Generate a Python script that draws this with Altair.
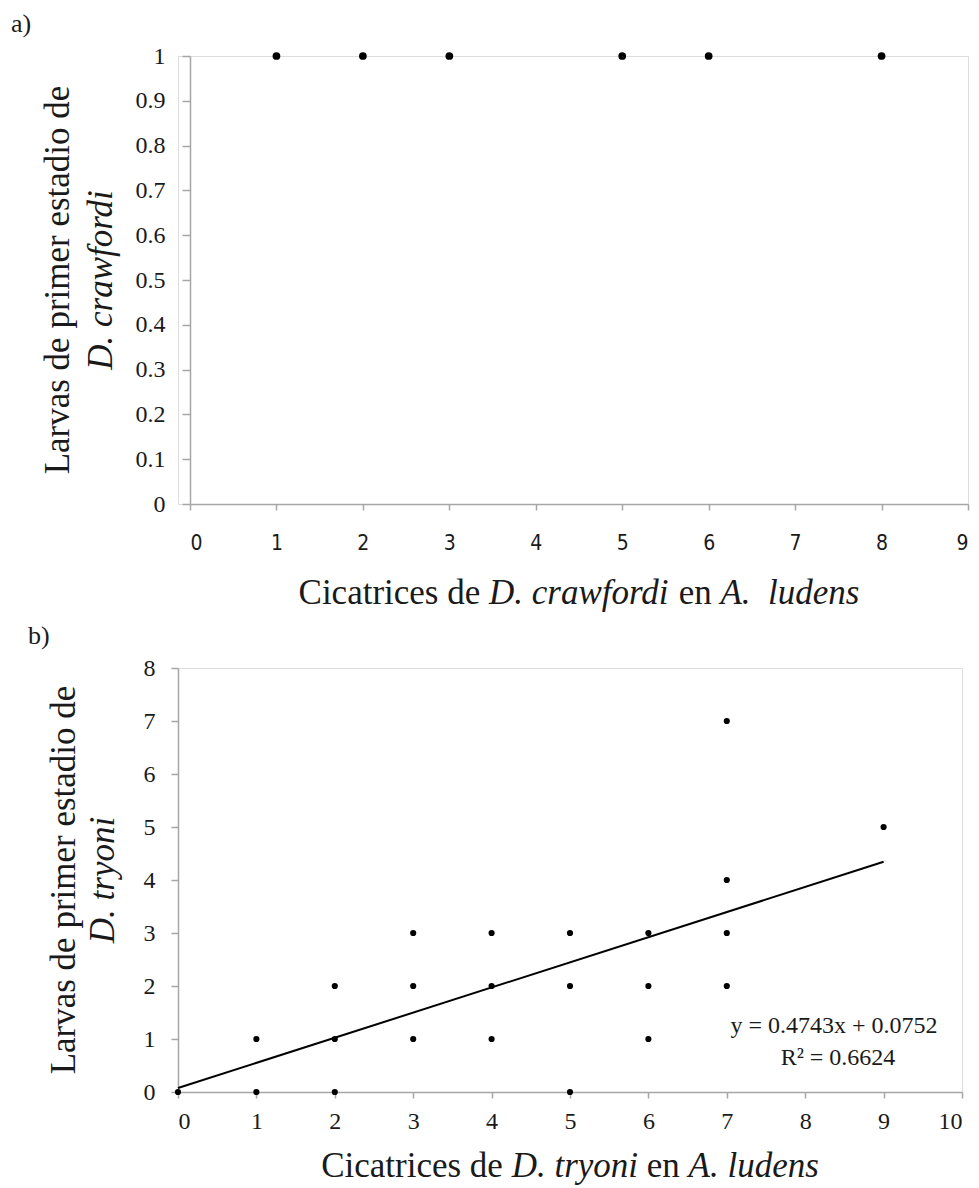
import altair as alt
import pandas as pd

# ---------------- data ----------------
# panel a)
a_x = [1, 2, 3, 5, 6, 8]
a_y = [1, 1, 1, 1, 1, 1]
a_xticks = [0, 1, 2, 3, 4, 5, 6, 7, 8, 9]
a_yticks = [0, 0.1, 0.2, 0.3, 0.4, 0.5, 0.6, 0.7, 0.8, 0.9, 1]

# panel b)
b_x = [0, 1, 2, 5, 1, 2, 3, 4, 6, 2, 3, 4, 5, 6, 7, 3, 4, 5, 6, 7, 7, 9, 7]
b_y = [0, 0, 0, 0, 1, 1, 1, 1, 1, 2, 2, 2, 2, 2, 2, 3, 3, 3, 3, 3, 4, 5, 7]
b_xticks = [0, 1, 2, 3, 4, 5, 6, 7, 8, 9, 10]
b_yticks = [0, 1, 2, 3, 4, 5, 6, 7, 8]

trend_slope = 0.4743
trend_intercept = 0.0752
trend_x = [0, 9]
eq_line1 = "y = 0.4743x + 0.0752"
eq_line2 = "R² = 0.6624"

a_xtitle = [("Cicatrices de ", False), ("D. crawfordi", True), (" en ", False), ("A.  ludens", True)]
b_xtitle = [("Cicatrices de ", False), ("D. tryoni", True), (" en ", False), ("A. ludens", True)]
ytitle_line1 = "Larvas de primer estadio de"
a_ytitle_line2 = "D. crawfordi"
b_ytitle_line2 = "D. tryoni"

# ---------------- style ----------------
SERIF = "Liberation Serif"
NARROW = "DejaVu Sans Condensed, Liberation Sans Narrow, Liberation Sans"
GRAY = "#a6a6a6"
TEXT = "#1a1a1a"
TITLE_SIZE = 35
TICK_SIZE = 24

# Times-compatible advance widths (per 1000 em) for laying out mixed-style titles
REG = {' ': 250, '.': 250, 'A': 722, 'C': 667, 'D': 722, 'a': 444, 'c': 444, 'd': 500,
       'e': 444, 'i': 278, 'l': 278, 'n': 500, 'o': 500, 'r': 333, 's': 389, 't': 278,
       'u': 500, 'w': 722, 'f': 333, 'y': 500}
ITA = {' ': 250, '.': 250, 'A': 611, 'D': 722, 'a': 500, 'c': 444, 'd': 500, 'e': 444,
       'f': 278, 'i': 278, 'l': 278, 'n': 500, 'o': 500, 'r': 389, 's': 389, 't': 278,
       'u': 500, 'w': 667, 'y': 444}


def text_width(s, size, italic):
    table = ITA if italic else REG
    return sum(table.get(ch, 500) for ch in s) * size / 1000.0


one = pd.DataFrame({"k": [0]})


def text_layer(txt, x, y, size, italic=False, align="center", angle=0, font=SERIF):
    kw = dict(text=txt, font=font, fontSize=size, fontStyle="italic" if italic else "normal",
              align=align, baseline="middle", color=TEXT)
    if angle:
        kw["angle"] = angle
    return alt.Chart(one).mark_text(**kw).encode(x=alt.value(x), y=alt.value(y))


def mixed_title(segments, center_x, y, size):
    widths = [text_width(t, size, it) for t, it in segments]
    x0 = center_x - sum(widths) / 2.0
    layers = []
    for (t, it), w in zip(segments, widths):
        lead = len(t) - len(t.lstrip())
        core = t.strip()
        # internal double spaces are kept by splitting into words
        parts = core.split("  ")
        xx = x0 + text_width(t[:lead], size, it)
        for j, p in enumerate(parts):
            layers.append(text_layer(p, xx, y, size, italic=it, align="left"))
            xx += text_width(p + "  ", size, it)
        x0 += w
    return layers


def axis(**kw):
    base = dict(domainColor=GRAY, domainWidth=1.5, tickColor=GRAY, tickWidth=1.5,
                grid=False, labelColor=TEXT, title=None)
    base.update(kw)
    return alt.Axis(**base)


# ---------------- panel a ----------------
A_SHIFT = 12
A_W = 790
A_H = 448

dfa = pd.DataFrame({"x": a_x, "y": a_y})
pts_a = alt.Chart(dfa).mark_circle(size=60, color="black", opacity=1).encode(
    x=alt.X("x:Q", scale=alt.Scale(domain=[0, 9], range=[A_SHIFT, A_W], nice=False, zero=False),
            axis=axis(values=a_xticks, format="d", labelFont=NARROW, labelFontSize=21,
                      tickSize=6, labelPadding=22)),
    y=alt.Y("y:Q", scale=alt.Scale(domain=[0, 1], nice=False),
            axis=axis(values=a_yticks, format=".1~f", labelFont=SERIF, labelFontSize=TICK_SIZE,
                      tickSize=8, labelPadding=17, offset=-A_SHIFT)),
)

panel_a = alt.layer(
    pts_a,
    text_layer(ytitle_line1, -120, A_H / 2, TITLE_SIZE, angle=270),
    text_layer(a_ytitle_line2, -77, A_H / 2, TITLE_SIZE, italic=True, angle=270),
    text_layer("a)", -167, -32, 26, align="left"),
    *mixed_title(a_xtitle, 401, A_H + 89, TITLE_SIZE),
).properties(width=A_W, height=A_H)

# ---------------- panel b ----------------
B_W = 784
B_H = 424

dfb = pd.DataFrame({"x": b_x, "y": b_y})
xb = alt.X("x:Q", scale=alt.Scale(domain=[0, 10], nice=False, zero=False),
           axis=axis(values=b_xticks, format="d", labelFont=SERIF, labelFontSize=TICK_SIZE,
                     tickSize=6, labelPadding=11))
yb = alt.Y("y:Q", scale=alt.Scale(domain=[0, 8], nice=False),
           axis=axis(values=b_yticks, format="d", labelFont=SERIF, labelFontSize=TICK_SIZE,
                     tickSize=7, labelPadding=16))

pts_b = alt.Chart(dfb).mark_circle(size=38, color="black", opacity=1).encode(x=xb, y=yb)

dft = pd.DataFrame({"x": trend_x, "y": [trend_slope * v + trend_intercept for v in trend_x]})
line_b = alt.Chart(dft).mark_line(color="black", strokeWidth=2).encode(x=xb, y=yb)

panel_b = alt.layer(
    line_b,
    pts_b,
    text_layer(eq_line1, 656, 358, TICK_SIZE),
    text_layer(eq_line2, 660, 390, TICK_SIZE),
    text_layer(ytitle_line1, -114, B_H / 2, TITLE_SIZE, angle=270),
    text_layer(b_ytitle_line2, -75, B_H / 2, TITLE_SIZE, italic=True, angle=270),
    text_layer("b)", -150, -32, 26, align="left"),
    *mixed_title(b_xtitle, 392, B_H + 74, TITLE_SIZE),
).properties(width=B_W, height=B_H)

chart = alt.vconcat(panel_a, panel_b, spacing=10).properties(
    padding={"left": 10, "top": 10, "right": 5, "bottom": 0}
).configure_view(strokeWidth=0).configure(background="white")

chart.save("out.html", embed_options={"renderer": "svg", "actions": False})
